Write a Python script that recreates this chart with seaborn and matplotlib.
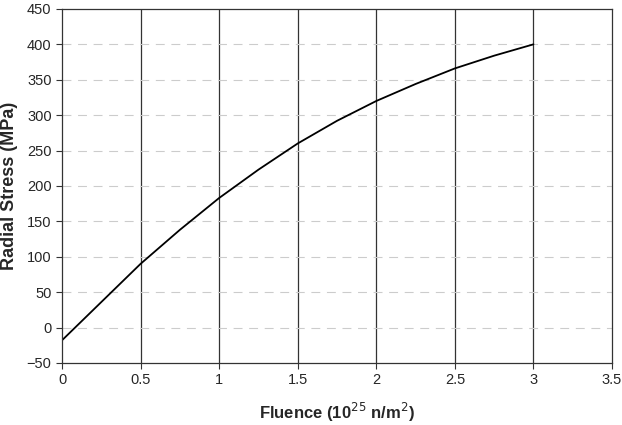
import numpy as np
import pandas as pd
import matplotlib
matplotlib.use("Agg")
import matplotlib.pyplot as plt
import seaborn as sns

# Radial stress vs fluence
fluence = [0, 0.25, 0.5, 0.75, 1.0, 1.25, 1.5, 1.75, 2.0, 2.25, 2.5, 2.75, 3.0]
stress = [-18, 36, 90, 138, 183, 223, 260, 292, 320, 344, 366, 384, 400]

df = pd.DataFrame({'fluence': fluence, 'stress': stress})

sns.set_style('white')
plt.rcParams['font.family'] = ['Liberation Sans', 'DejaVu Sans']

fig = plt.figure(figsize=(6.22, 4.25), dpi=100)
ax = fig.add_axes([0.0997, 0.146, 0.8843, 0.833])

sns.lineplot(data=df, x='fluence', y='stress', color='black', linewidth=1.3, ax=ax)

ax.set_xlim(0, 3.5)
ax.set_ylim(-50, 450)
ax.set_xticks(np.arange(0, 3.51, 0.5))
ax.set_xticklabels(['0', '0.5', '1', '1.5', '2', '2.5', '3', '3.5'])
ax.set_yticks(np.arange(-50, 451, 50))

# vertical grid solid, horizontal dashed light grey
for xv in np.arange(0.5, 3.5, 0.5):
    ax.axvline(xv, color='#333333', linewidth=0.9, zorder=0)
for yv in np.arange(0, 450, 50):
    ax.axhline(yv, color='#cccccc', linewidth=0.8, linestyle=(0, (8, 6)), zorder=0)

for s in ax.spines.values():
    s.set_color('#333333')
    s.set_linewidth(0.9)

ax.tick_params(axis='both', labelsize=10.5, length=4, direction='out', color='#333333', left=True, bottom=True)
ax.set_xlabel('Fluence (10$^{25}$ n/m$^{2}$)', fontsize=12, fontweight='bold', labelpad=10)
ax.set_ylabel('Radial Stress (MPa)', fontsize=13, fontweight='bold', labelpad=6)

fig.savefig('out.png', dpi=100)
